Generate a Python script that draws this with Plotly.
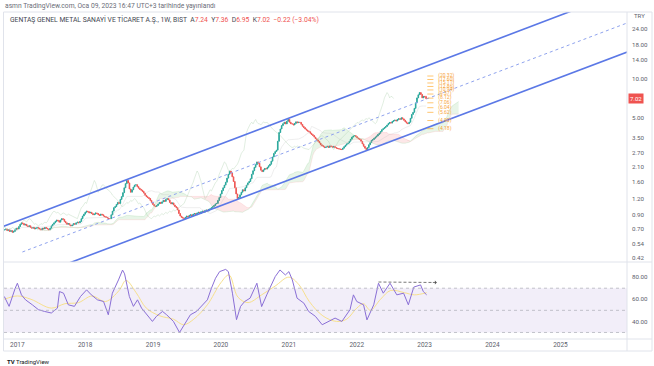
import numpy as np
import pandas as pd
import plotly.graph_objects as go
from plotly.subplots import make_subplots

# ---------------- DATA ----------------
first_week = "2016-10-24"
closes = [
    0.69, 0.70, 0.68, 0.69, 0.67, 0.68, 0.66, 0.67, 0.69, 0.71, 0.70, 0.73, 0.76,
    0.78, 0.77, 0.75, 0.76, 0.74, 0.73, 0.74, 0.72, 0.71, 0.72, 0.70, 0.71, 0.72,
    0.71, 0.70, 0.69, 0.71, 0.70, 0.72, 0.71, 0.70, 0.69, 0.71, 0.74, 0.76, 0.78,
    0.80, 0.82, 0.81, 0.79, 0.82, 0.84, 0.83, 0.80, 0.78, 0.76, 0.77, 0.75, 0.74,
    0.75, 0.77, 0.76, 0.78, 0.79, 0.78, 0.80, 0.84, 0.88, 0.91, 0.94, 0.96, 0.95,
    0.93, 0.94, 0.92, 0.90, 0.91, 0.93, 0.92, 0.90, 0.89, 0.91, 0.90, 0.88, 0.87,
    0.86, 0.85, 0.84, 0.84, 0.90, 0.96, 1.02, 1.04, 1.08, 1.12, 1.10, 1.18, 1.24,
    1.33, 1.45, 1.56, 1.65, 1.58, 1.42, 1.34, 1.40, 1.47, 1.52, 1.53, 1.48, 1.44,
    1.41, 1.39, 1.36, 1.32, 1.27, 1.24, 1.22, 1.20, 1.16, 1.12, 1.08, 1.05, 1.04,
    1.06, 1.09, 1.12, 1.10, 1.13, 1.16, 1.14, 1.18, 1.20, 1.17, 1.12, 1.09, 1.11,
    1.07, 1.04, 1.02, 0.98, 0.92, 0.88, 0.86, 0.85, 0.84, 0.86, 0.88, 0.87, 0.89,
    0.90, 0.88, 0.91, 0.92, 0.90, 0.93, 0.94, 0.92, 0.95, 0.96, 0.94, 0.97, 0.98,
    0.96, 0.99, 1.00, 1.02, 1.04, 1.06, 1.09, 1.10, 1.16, 1.22, 1.30, 1.38, 1.45,
    1.52, 1.60, 1.72, 1.84, 1.95, 1.88, 1.76, 1.62, 1.45, 1.30, 1.20, 1.22, 1.28,
    1.34, 1.40, 1.37, 1.45, 1.52, 1.58, 1.62, 1.70, 1.84, 1.96, 2.08, 2.18, 2.29,
    2.24, 2.10, 1.98, 1.93, 1.99, 2.04, 2.02, 2.08, 2.14, 2.20, 2.32, 2.50, 2.66,
    2.75, 2.82, 3.30, 3.85, 4.10, 4.35, 4.50, 4.62, 4.48, 4.70, 4.85, 4.62, 4.50,
    4.48, 4.40, 4.52, 4.65, 4.58, 4.62, 4.60, 4.45, 4.30, 4.20, 4.10, 4.02, 3.95,
    3.90, 3.80, 3.72, 3.65, 3.55, 3.45, 3.38, 3.30, 3.20, 3.10, 3.05, 3.00, 2.95,
    2.98, 3.02, 2.96, 3.04, 3.00, 2.97, 3.01, 2.95, 2.92, 2.90, 2.88, 2.86, 2.85,
    2.92, 3.00, 3.08, 3.15, 3.20, 3.30, 3.42, 3.55, 3.62, 3.65, 3.58, 3.50, 3.45,
    3.40, 3.30, 3.15, 3.02, 2.92, 2.85, 2.95, 3.10, 3.22, 3.35, 3.40, 3.48, 3.55,
    3.62, 3.72, 3.80, 3.92, 4.05, 4.12, 4.20, 4.28, 4.40, 4.52, 4.60, 4.55, 4.68,
    4.75, 4.80, 4.72, 4.85, 4.92, 4.86, 5.00, 4.90, 4.78, 4.65, 4.55, 4.50, 4.62,
    4.95, 5.30, 5.50, 5.90, 6.50, 7.10, 7.50, 7.80, 7.55, 7.10, 7.30, 7.24, 7.02,
]
last_open, last_high, last_low, last_close = 7.24, 7.36, 6.95, 7.02

rsi_years = [
    2016.81, 2016.88, 2016.97, 2017.00, 2017.06, 2017.12, 2017.22, 2017.31, 2017.40, 2017.50,
    2017.59, 2017.62, 2017.68, 2017.75, 2017.84, 2017.93, 2018.02, 2018.09, 2018.18, 2018.27,
    2018.34, 2018.40, 2018.49, 2018.55, 2018.58, 2018.65, 2018.71, 2018.77, 2018.83, 2018.89,
    2018.99, 2019.05, 2019.14, 2019.20, 2019.30, 2019.39, 2019.45, 2019.55, 2019.64, 2019.73,
    2019.80, 2019.86, 2019.92, 2019.98, 2020.07, 2020.11, 2020.17, 2020.23, 2020.29, 2020.35,
    2020.43, 2020.53, 2020.60, 2020.68, 2020.80, 2020.87, 2020.95, 2021.00, 2021.05, 2021.12,
    2021.22, 2021.29, 2021.39, 2021.49, 2021.58, 2021.68, 2021.78, 2021.90, 2021.95, 2022.00,
    2022.10, 2022.15, 2022.25, 2022.32, 2022.39, 2022.49, 2022.59, 2022.69, 2022.76, 2022.84,
    2022.94, 2022.98, 2023.03,
]
rsi_values = [
    62.5, 53.6, 70.0, 74.5, 64.0, 59.5, 55.0, 50.6, 49.0, 47.6,
    52.0, 67.0, 65.5, 55.0, 53.6, 62.5, 68.5, 64.0, 59.5, 58.0,
    46.0, 65.5, 77.5, 86.4, 83.0, 62.5, 53.6, 59.5, 52.0, 47.6,
    40.0, 44.6, 49.0, 46.0, 40.0, 30.0, 35.7, 46.0, 49.0, 55.0,
    59.5, 70.0, 79.0, 85.0, 87.0, 85.0, 65.5, 41.6, 53.6, 58.0,
    61.0, 74.5, 53.4, 64.6, 80.5, 86.5, 82.0, 85.0, 77.5, 61.0,
    56.5, 49.0, 44.6, 37.0, 40.0, 43.0, 40.0, 50.6, 64.0, 58.0,
    55.0, 41.4, 55.0, 74.5, 65.5, 74.5, 64.0, 65.5, 55.0, 71.0,
    73.0, 67.0, 64.0,
]
rsi_ma_years = [
    2016.81, 2017.00, 2017.20, 2017.50, 2017.70, 2017.90, 2018.10, 2018.30, 2018.50, 2018.60,
    2018.75, 2018.90, 2019.10, 2019.30, 2019.45, 2019.60, 2019.80, 2020.00, 2020.12, 2020.25,
    2020.40, 2020.60, 2020.80, 2021.00, 2021.15, 2021.30, 2021.50, 2021.70, 2021.85, 2022.00,
    2022.10, 2022.20, 2022.35, 2022.50, 2022.70, 2022.85, 2023.03,
]
rsi_ma_values = [
    60, 63, 60, 52, 56, 57, 63, 58, 68, 77,
    66, 52, 45, 42, 37, 42, 55, 75, 82, 62,
    57, 64, 72, 80, 73, 58, 45, 40, 42, 52,
    56, 50, 60, 68, 66, 64, 66,
]

# trend channel drawn on chart (date, price)
upper_dates = ["2016-10-01", "2025-12-31"]
upper_prices = [0.717, 48.2]
mid_dates = ["2017-01-28", "2025-12-26"]
mid_prices = [0.466, 26.7]
lower_dates = ["2017-07-01", "2025-12-26"]
lower_prices = [0.340, 15.98]

# fibonacci labels
fib_prices = [10.45, 9.83, 9.24, 8.69, 8.17, 7.60, 7.07, 6.51, 5.97, 5.50, 4.76, 4.12]
fib_texts = ["(20.32)", "(17.60)", "(15.11)", "(12.86)", "(10.94)", "(9.37)",
             "(8.12)", "(7.06)", "(6.04)", "(5.62)", "(4.90)", "(4.18)"]

price_ticks = [24, 18, 14, 10, 5, 3.5, 2.7, 2.1, 1.6, 1.2, 0.9, 0.7, 0.54, 0.42]
rsi_ticks = [80, 60, 40]
year_ticks = [2017, 2018, 2019, 2020, 2021, 2022, 2023, 2024, 2025]

# ---------------- BUILD ----------------
def ydate(y):
    yr = int(y)
    return pd.Timestamp(yr, 1, 1) + pd.Timedelta(days=(y - yr) * 365.25)

dates = pd.date_range(first_week, periods=len(closes), freq="7D")
opens = [closes[0]] + closes[:-1]
opens[-1] = last_open
highs = [max(o, c) for o, c in zip(opens, closes)]
lows = [min(o, c) for o, c in zip(opens, closes)]
highs[-1], lows[-1] = last_high, last_low

s = pd.Series(closes)
tenkan = (s.rolling(9, min_periods=1).max() + s.rolling(9, min_periods=1).min()) / 2
kijun = (s.rolling(26, min_periods=1).max() + s.rolling(26, min_periods=1).min()) / 2
span_a = ((tenkan + kijun) / 2).values
span_b = ((s.rolling(52, min_periods=1).max() + s.rolling(52, min_periods=1).min()) / 2).values
cloud_dates = dates + pd.Timedelta(weeks=25)
chikou_dates = dates - pd.Timedelta(weeks=25)

BLUE = "#5b78e6"
GRID = "#e0e3eb"
TXT = "#5d606b"
FONT = "Roboto"

fig = make_subplots(rows=2, cols=1, shared_xaxes=True, vertical_spacing=0,
                    row_heights=[0.7645, 0.2355])

# ichimoku cloud
fig.add_trace(go.Scatter(x=cloud_dates, y=span_b, mode="lines",
                         line=dict(color="rgba(250,161,164,0.35)", width=0.6),
                         hoverinfo="skip"), row=1, col=1)
fig.add_trace(go.Scatter(x=cloud_dates, y=np.where(span_a > span_b, span_a, span_b), mode="lines",
                         line=dict(width=0), fill="tonexty", fillcolor="rgba(76,175,80,0.13)",
                         hoverinfo="skip"), row=1, col=1)
fig.add_trace(go.Scatter(x=cloud_dates, y=span_a, mode="lines",
                         line=dict(color="rgba(165,214,167,0.5)", width=0.6),
                         hoverinfo="skip"), row=1, col=1)
fig.add_trace(go.Scatter(x=cloud_dates, y=np.where(span_b > span_a, span_b, span_a), mode="lines",
                         line=dict(width=0), fill="tonexty", fillcolor="rgba(242,54,69,0.12)",
                         hoverinfo="skip"), row=1, col=1)
fig.add_trace(go.Scatter(x=chikou_dates, y=closes, mode="lines",
                         line=dict(color="rgba(160,200,160,0.45)", width=0.7),
                         hoverinfo="skip"), row=1, col=1)
fig.add_trace(go.Scatter(x=dates, y=kijun, mode="lines",
                         line=dict(color="rgba(190,190,190,0.45)", width=0.6),
                         hoverinfo="skip"), row=1, col=1)

# channel
fig.add_trace(go.Scatter(x=upper_dates, y=upper_prices, mode="lines",
                         line=dict(color=BLUE, width=1.6), hoverinfo="skip"), row=1, col=1)
fig.add_trace(go.Scatter(x=lower_dates, y=lower_prices, mode="lines",
                         line=dict(color=BLUE, width=1.6), hoverinfo="skip"), row=1, col=1)
fig.add_trace(go.Scatter(x=mid_dates, y=mid_prices, mode="lines",
                         line=dict(color="#8fa3ee", width=1, dash="3px,3px"), hoverinfo="skip"),
              row=1, col=1)

# candles
fig.add_trace(go.Candlestick(x=dates, open=opens, high=highs, low=lows, close=closes,
                             increasing=dict(line=dict(color="#26a69a", width=0.9), fillcolor="#26a69a"),
                             decreasing=dict(line=dict(color="#ef5350", width=0.9), fillcolor="#ef5350"),
                             whiskerwidth=0), row=1, col=1)

# fib ticks and labels
fx, fy = [], []
for p in fib_prices:
    fx += [ydate(2023.04), ydate(2023.13), None]
    fy += [p, p, None]
fig.add_trace(go.Scatter(x=fx, y=fy, mode="lines", line=dict(color="rgba(255,152,0,0.7)", width=0.8),
                         hoverinfo="skip"), row=1, col=1)
fig.add_trace(go.Scatter(x=[ydate(2023.20)] * len(fib_prices), y=fib_prices, mode="text",
                         text=fib_texts, textposition="middle right",
                         textfont=dict(color="#f7a43a", size=5, family=FONT),
                         hoverinfo="skip"), row=1, col=1)

# RSI pane
fig.add_shape(type="rect", xref="x2 domain", yref="y2", x0=0, x1=1, y0=30, y1=70,
              fillcolor="rgba(126,87,194,0.10)", line=dict(width=0), layer="below")
for lv in (70, 50, 30):
    fig.add_shape(type="line", xref="x2 domain", yref="y2", x0=0, x1=1, y0=lv, y1=lv,
                  line=dict(color="#b2b5be", width=0.8, dash="3px,3px"))
fig.add_trace(go.Scatter(x=[ydate(y) for y in rsi_ma_years], y=rsi_ma_values, mode="lines",
                         line=dict(color="#f7e08d", width=1, shape="spline"), hoverinfo="skip"),
              row=2, col=1)
fig.add_trace(go.Scatter(x=[ydate(y) for y in rsi_years], y=rsi_values, mode="lines",
                         line=dict(color="#8a6fd6", width=1), hoverinfo="skip"), row=2, col=1)
fig.add_trace(go.Scatter(x=[ydate(2022.32), ydate(2023.12)], y=[75.6, 75.2], mode="lines",
                         line=dict(color="#555", width=0.8, dash="3px,2px"), hoverinfo="skip"),
              row=2, col=1)
fig.add_annotation(x=ydate(2023.18), y=75.2, ax=ydate(2023.10), ay=75.2, xref="x2", yref="y2",
                   axref="x2", ayref="y2", text="", showarrow=True, arrowhead=1,
                   arrowsize=0.8, arrowwidth=0.8, arrowcolor="#555")

x_range = [pd.Timestamp("2016-10-21"), pd.Timestamp("2025-12-25")]
fig.update_xaxes(range=x_range, showgrid=False, zeroline=False, showline=False,
                 rangeslider_visible=False)
fig.update_xaxes(showticklabels=False, row=1, col=1)
fig.update_xaxes(tickvals=[pd.Timestamp(y, 1, 1) for y in year_ticks],
                 ticktext=[str(y) for y in year_ticks], ticks="",
                 tickfont=dict(size=6.5, color=TXT, family=FONT), row=2, col=1)

fig.update_yaxes(type="log", range=[np.log10(0.3906), np.log10(32.4)], side="right",
                 tickvals=price_ticks, ticktext=[f"{v:.2f}" for v in price_ticks],
                 showgrid=False, zeroline=False, ticks="", ticklabelstandoff=4,
                 tickfont=dict(size=6.2, color=TXT, family=FONT), row=1, col=1)
fig.update_yaxes(range=[24.1, 93.7], side="right", tickvals=rsi_ticks,
                 ticktext=[f"{v:.2f}" for v in rsi_ticks], showgrid=False, zeroline=False,
                 ticks="", ticklabelstandoff=4,
                 tickfont=dict(size=6.2, color=TXT, family=FONT), row=2, col=1)

def pxx(p):
    return (p - 4) / 623.0

def pxy(p):
    return (339 - p) / 327.0

# frame lines
for (x0, y0, x1, y1) in [(3.5, 12, 652, 12), (627, 12, 627, 351), (3.5, 262, 652, 262),
                         (3.5, 339, 652, 339), (3.5, 351, 652, 351), (3.5, 12, 3.5, 351),
                         (652, 12, 652, 351)]:
    fig.add_shape(type="line", xref="paper", yref="paper", x0=pxx(x0), x1=pxx(x1),
                  y0=pxy(y0), y1=pxy(y1), line=dict(color=GRID, width=1))

fig.add_annotation(xref="paper", yref="paper", x=pxx(3), y=pxy(6), xanchor="left", yanchor="middle",
                   text="asmn TradingView.com, Oca 09, 2023 16:47 UTC+3 tarihinde yayınlandı",
                   showarrow=False, font=dict(size=6.7, color="#6a6d78", family=FONT))
red = "#ef5350"
legend = ("GENTAŞ GENEL METAL SANAYİ VE TİCARET A.Ş., 1W, BIST  "
          f"A<span style='color:{red}'>7.24</span>  Y<span style='color:{red}'>7.36</span>  "
          f"D<span style='color:{red}'>6.95</span>  K<span style='color:{red}'>7.02</span>  "
          f"<span style='color:{red}'>−0.22 (−3.04%)</span>")
fig.add_annotation(xref="paper", yref="paper", x=pxx(8), y=pxy(19), xanchor="left", yanchor="middle",
                   text=legend, showarrow=False, font=dict(size=6.75, color="#434651", family=FONT))
fig.add_annotation(xref="paper", yref="paper", x=pxx(632), y=pxy(16), xanchor="left", yanchor="middle",
                   text="TRY", showarrow=False, font=dict(size=6, color=TXT, family=FONT))
fig.add_annotation(xref="paper", yref="y", x=pxx(628), y=np.log10(last_close), xanchor="left",
                   yanchor="middle", text="7.02", showarrow=False, bgcolor=red, borderpad=1,
                   font=dict(size=6, color="white", family=FONT))
fig.add_annotation(xref="paper", yref="paper", x=pxx(5), y=pxy(361), xanchor="left", yanchor="middle",
                   text="<b>TV</b> TradingView", showarrow=False,
                   font=dict(size=6, color="#131722", family=FONT))

fig.update_layout(width=654, height=366, margin=dict(l=4, r=27, t=12, b=27),
                  paper_bgcolor="white", plot_bgcolor="white", showlegend=False,
                  font=dict(family=FONT, size=6.5, color=TXT))
fig.write_html("out.html", config={"displayModeBar": False},
               post_script="document.body.style.margin='0px';")
